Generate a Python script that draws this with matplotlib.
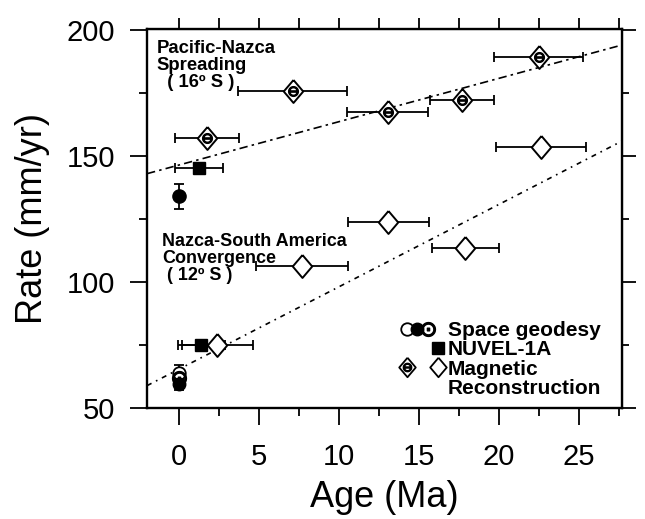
import matplotlib
matplotlib.use('Agg')
import matplotlib.pyplot as plt
import numpy as np
from matplotlib.lines import Line2D
from matplotlib.legend_handler import HandlerTuple
from matplotlib.ticker import MultipleLocator

plt.rcParams['font.family'] = ['Liberation Sans', 'DejaVu Sans']

# Pacific-Nazca spreading (16 S): magnetic reconstruction
pn_age = [1.75, 7.1, 13.05, 17.7, 22.5]
pn_age_err = [2.0, 3.4, 2.55, 2.0, 2.8]
pn_rate = [157.4, 175.7, 167.4, 172.5, 189.3]

# Nazca-South America convergence (12 S): magnetic reconstruction
ns_age = [2.4, 7.7, 13.1, 17.9, 22.65]
ns_age_err = [2.2, 2.9, 2.55, 2.1, 2.8]
ns_rate = [75.0, 106.5, 124.0, 113.6, 153.8]

# NUVEL-1A
nuvel_age = [1.25, 1.4]
nuvel_age_err = [1.5, 1.45]
nuvel_rate = [145.5, 75.0]

# space geodesy
sg_pn_rate, sg_pn_err = 134.0, 5.0
sg_open_rate, sg_open_err = 64.0, 3.0
sg_bull_rate = 62.0
sg_fill_rate, sg_fill_err = 59.5, 2.5

# linear trends (intercept, slope)
pn_fit = (146.5, 1.72)
ns_fit = (65.4, 3.27)

x_lim = (-2.0, 27.7)
y_lim = (50, 200.5)

diamond = [(0, 1), (0.85, 0), (0, -1), (-0.85, 0), (0, 1)]
bar_kw = dict(fmt='none', ecolor='k', elinewidth=1.3, capsize=3.5, capthick=1.3, zorder=2)

fig = plt.figure(figsize=(6.45, 5.19), dpi=100)
ax = fig.add_axes([0.228, 0.214, 0.736, 0.730])

# trend lines
xf = np.array(x_lim)
ax.plot(xf, pn_fit[0] + pn_fit[1] * xf, color='k', lw=1.2, dashes=(5, 2.5, 1.5, 2.5), zorder=1)
ax.plot(xf, ns_fit[0] + ns_fit[1] * xf, color='k', lw=1.2, dashes=(3, 3, 1, 3), zorder=1)

# magnetic reconstruction
ax.errorbar(pn_age, pn_rate, xerr=pn_age_err, **bar_kw)
ax.plot(pn_age, pn_rate, ls='none', marker=diamond, ms=16.5, mfc='white', mec='k', mew=1.4, zorder=3)
ax.plot(pn_age, pn_rate, ls='none', marker=r'$\ominus$', ms=7, color='k', zorder=4)
ax.errorbar(ns_age, ns_rate, xerr=ns_age_err, **bar_kw)
ax.plot(ns_age, ns_rate, ls='none', marker=diamond, ms=16.5, mfc='white', mec='k', mew=1.4, zorder=3)

# NUVEL-1A
ax.errorbar(nuvel_age, nuvel_rate, xerr=nuvel_age_err, **bar_kw)
ax.plot(nuvel_age, nuvel_rate, ls='none', marker='s', ms=8.5, color='k', zorder=4)

# space geodesy
ax.errorbar([0], [sg_pn_rate], yerr=[sg_pn_err], **bar_kw)
ax.plot([0], [sg_pn_rate], ls='none', marker='o', ms=9.5, color='k', zorder=4)
ax.errorbar([0], [sg_open_rate], yerr=[sg_open_err], **bar_kw)
ax.plot([0], [sg_open_rate], ls='none', marker='o', ms=9, mfc='white', mec='k', mew=1.3, zorder=4)
ax.plot([0], [sg_bull_rate], ls='none', marker=r'$\odot$', ms=10, color='k', zorder=5)
ax.errorbar([0], [sg_fill_rate], yerr=[sg_fill_err], **bar_kw)
ax.plot([0], [sg_fill_rate], ls='none', marker='o', ms=9, color='k', zorder=5)

# annotations
ax.text(-1.4, 196.0, 'Pacific-Nazca\nSpreading\n  ( 16º S )', va='top', ha='left',
        fontsize=13.3, fontweight='bold', linespacing=1.0)
ax.text(-1.06, 119.6, 'Nazca-South America\nConvergence\n ( 12º S )', va='top', ha='left',
        fontsize=13, fontweight='bold', linespacing=1.0)

# legend
blank = Line2D([], [], ls='none', marker='')
h_open = Line2D([], [], ls='none', marker='o', ms=9, mfc='white', mec='k', mew=1.3)
h_fill = Line2D([], [], ls='none', marker='o', ms=9, color='k')
h_bull = Line2D([], [], ls='none', marker=r'$\odot$', ms=10, color='k')
h_sq = Line2D([], [], ls='none', marker='s', ms=8.5, color='k')
h_dia = Line2D([], [], ls='none', marker=diamond, ms=14, mfc='white', mec='k', mew=1.3)
h_in = Line2D([], [], ls='none', marker=r'$\ominus$', ms=6, color='k')
sg_h = (h_open, h_fill, h_bull, blank)
nv_h = (blank, blank, blank, h_sq)
mg_h = ((h_dia, h_in), blank, blank, h_dia)
rc_h = (blank, blank, blank, blank)
tup = HandlerTuple(ndivide=None, pad=0.0)
ax.legend([sg_h, nv_h, mg_h, rc_h], ['Space geodesy', 'NUVEL-1A', 'Magnetic', 'Reconstruction'],
          handler_map={sg_h: tup, nv_h: tup, mg_h: tup, rc_h: tup},
          loc='lower right', bbox_to_anchor=(0.956, 0.026), frameon=False,
          prop={'size': 15, 'weight': 'bold'}, handlelength=2.0, handletextpad=0.2,
          labelspacing=0.02, borderpad=0, borderaxespad=0)

# axes
ax.set_xlim(*x_lim)
ax.set_ylim(*y_lim)
ax.xaxis.set_major_locator(MultipleLocator(5))
ax.xaxis.set_minor_locator(MultipleLocator(2.5))
ax.yaxis.set_major_locator(MultipleLocator(50))
ax.yaxis.set_minor_locator(MultipleLocator(25))
ax.tick_params(which='both', direction='out', width=1.3, labelsize=21)
ax.tick_params(which='major', length=12)
ax.tick_params(which='minor', length=6)
ax.tick_params(axis='y', which='major', pad=11)
ax.tick_params(axis='x', which='major', pad=13)
for s in ax.spines.values():
    s.set_linewidth(1.7)

top = ax.secondary_xaxis('top')
top.set_xticks(np.arange(0, 28, 2.5))
top.tick_params(direction='out', length=8, width=1.3, labeltop=False)
right = ax.secondary_yaxis('right')
right.yaxis.set_major_locator(MultipleLocator(50))
right.yaxis.set_minor_locator(MultipleLocator(25))
right.tick_params(which='both', direction='out', width=1.3, labelright=False)
right.tick_params(which='major', length=10)
right.tick_params(which='minor', length=5)

ax.set_xlabel('Age (Ma)', fontsize=26, labelpad=7)
ax.set_ylabel('Rate (mm/yr)', fontsize=26, labelpad=12)

fig.savefig('out.png', dpi=100)
